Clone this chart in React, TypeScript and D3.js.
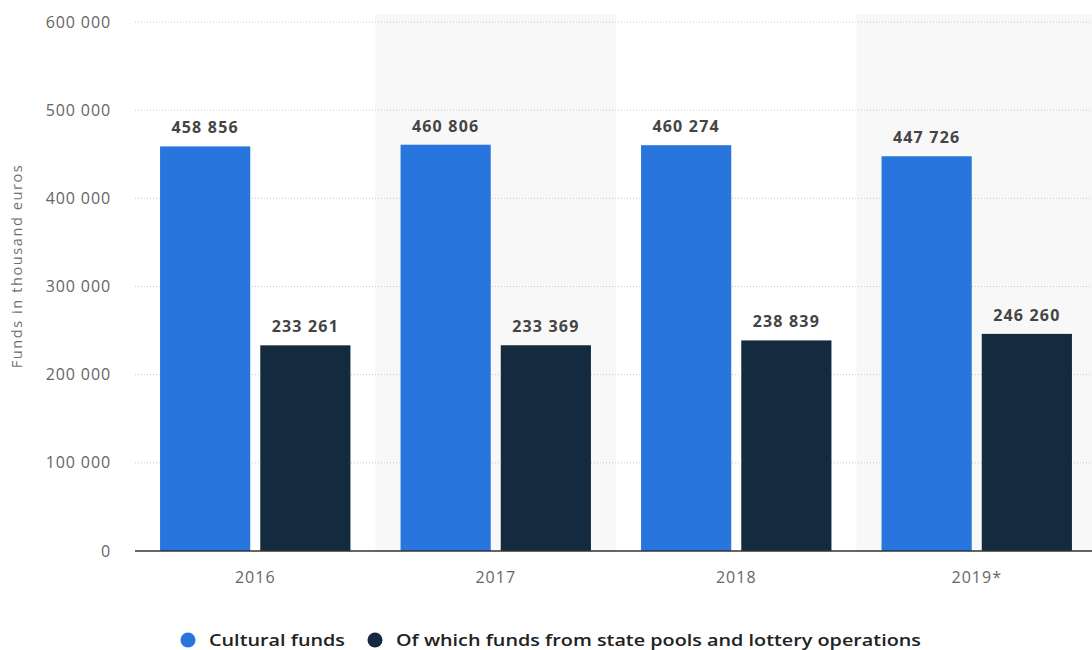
import React from "react";
import * as d3 from "d3";

const categories = ["2016", "2017", "2018", "2019*"];
const seriesNames = ["Cultural funds", "Of which funds from state pools and lottery operations"];
const culturalFunds = [458856, 460806, 460274, 447726];
const lotteryFunds = [233261, 233369, 238839, 246260];
const yTicks = [0, 100000, 200000, 300000, 400000, 500000, 600000];
const colors = ["#2876dd", "#142a3e"];

const W = 1092;
const H = 650;
const left = 135;
const right = 1097;
const top = 22;
const bottom = 551;

const fmt = (v: number) => d3.format(",")(v).replace(/,/g, " ");

export default function App() {
  const x0 = d3.scaleBand<string>().domain(categories).range([left, right]).padding(0);
  const x1 = d3
    .scaleBand<string>()
    .domain(seriesNames)
    .range([0, x0.bandwidth()])
    .paddingInner(0.1)
    .paddingOuter(0.25);
  const y = d3.scaleLinear().domain([0, 600000]).range([bottom, top]);
  const series = [culturalFunds, lotteryFunds];
  const font = "'Open Sans', 'DejaVu Sans', sans-serif";

  return (
    <svg
      width={W}
      height={H}
      style={{ position: "absolute", left: 0, top: 0, display: "block" }}
      fontFamily={font}
    >
      <rect width={W} height={H} fill="#ffffff" />
      {categories.map((c, i) =>
        i % 2 === 1 ? (
          <rect key={c} x={x0(c)} y={top - 8} width={x0.bandwidth()} height={bottom - top + 8} fill="#f8f8f8" />
        ) : null
      )}
      {yTicks.map((t) => (
        <g key={t}>
          {t > 0 && (
            <line
              x1={left}
              x2={W}
              y1={y(t)}
              y2={y(t)}
              stroke="#c8c8c8"
              strokeWidth={1}
              strokeDasharray="1,2"
            />
          )}
          <text x={111} y={y(t)} dy="0.35em" textAnchor="end" fontSize={16} letterSpacing={0.9} fill="#666">
            {fmt(t)}
          </text>
        </g>
      ))}
      <text
        transform={`translate(22, 266) rotate(-90)`}
        textAnchor="middle"
        fontSize={14.5}
        letterSpacing={1.6}
        fill="#707070"
      >
        Funds in thousand euros
      </text>
      {categories.map((c, i) => (
        <g key={c} transform={`translate(${x0(c)},0)`}>
          {seriesNames.map((s, j) => {
            const v = series[j][i];
            const bx = x1(s)!;
            return (
              <g key={s}>
                <rect x={bx} y={y(v)} width={x1.bandwidth()} height={bottom - y(v)} fill={colors[j]} />
                <text
                  x={bx + x1.bandwidth() / 2}
                  y={y(v) - 13}
                  textAnchor="middle"
                  fontSize={16}
                  fontWeight={700}
                  letterSpacing={1.2}
                  fill="#444"
                >
                  {fmt(v)}
                </text>
              </g>
            );
          })}
          <text x={x0.bandwidth() / 2} y={583} textAnchor="middle" fontSize={16} letterSpacing={1} fill="#666">
            {c}
          </text>
        </g>
      ))}
      <line x1={left} x2={W} y1={bottom} y2={bottom} stroke="#333" strokeWidth={1.5} />
      <g>
        <circle cx={188} cy={640} r={7.5} fill={colors[0]} />
        <text x={209} y={646} fontSize={17} fontWeight={600} fill="#222" textLength={136} lengthAdjust="spacingAndGlyphs">
          {seriesNames[0]}
        </text>
        <circle cx={375} cy={640} r={7.5} fill={colors[1]} />
        <text x={396} y={646} fontSize={17} fontWeight={600} fill="#222" textLength={525} lengthAdjust="spacingAndGlyphs">
          {seriesNames[1]}
        </text>
      </g>
    </svg>
  );
}
